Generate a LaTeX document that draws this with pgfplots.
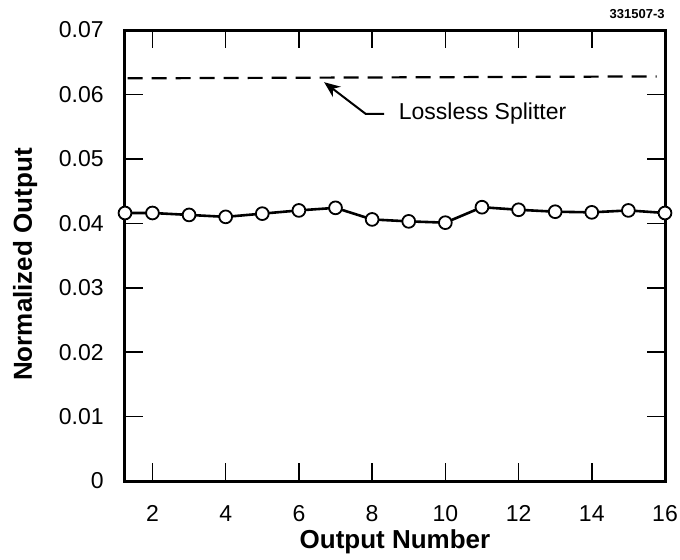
\documentclass[border=0pt]{standalone}
\usepackage{pgfplots}
\pgfplotsset{compat=1.18}
\usepackage{fontspec}
\setmainfont{Liberation Sans}
\usetikzlibrary{arrows.meta}

\begin{document}
\begin{tikzpicture}
\useasboundingbox (-62.5pt,-39pt) rectangle (277.5pt,240.5pt);
\begin{axis}[
    at={(0,0)}, anchor=south west,
    scale only axis, width=270pt, height=225.5pt,
    xmin=1.25, xmax=16, ymin=0, ymax=0.07,
    xtick={2,4,6,8,10,12,14,16},
    ytick={0,0.01,0.02,0.03,0.04,0.05,0.06,0.07},
    yticklabels={0,0.01,0.02,0.03,0.04,0.05,0.06,0.07},
    scaled y ticks=false,
    /pgf/number format/assume math mode=true,
    tick align=inside, major tick length=9pt,
    tick style={line width=0.8pt, black},
    axis line style={line width=1.5pt},
    tick label style={font=\fontsize{11.5}{13}\selectfont, inner sep=0pt},
    xticklabel style={anchor=north, yshift=-12pt},
    yticklabel style={anchor=east, xshift=-10.5pt},
    xlabel={Output Number},
    ylabel={Normalized Output},
    label style={font=\bfseries\fontsize{13}{15}\selectfont},
    xlabel style={at={(axis description cs:0.5,-0.135)}, anchor=center},
    ylabel style={at={(axis description cs:-0.185,0.48)}, anchor=center},
    clip=false,
]
% lossless splitter level (1/16)
\addplot[black, line width=1.1pt, dash pattern=on 7.5pt off 4.5pt] coordinates {(1.32,0.0625) (15.77,0.0628)};
% measured outputs
\addplot[black, line width=1.3pt, mark=*, mark size=3.2pt,
    mark options={fill=white, draw=black, line width=0.9pt}]
coordinates {
(1.25,0.0416) (2,0.0416) (3,0.0413) (4,0.0410) (5,0.0415) (6,0.0420)
(7,0.0424) (8,0.0406) (9,0.0403) (10,0.0401) (11,0.0425) (12,0.0421)
(13,0.0418) (14,0.0417) (15,0.0420) (16,0.0416)
};
\draw[black, line width=1pt, -{Stealth[length=8pt, width=6.5pt]}]
    (axis cs:8.33,0.0570) -- (axis cs:7.82,0.0570) -- (axis cs:6.69,0.0619);
\node[anchor=west, inner sep=0pt, font=\fontsize{11.5}{13}\selectfont]
    at (axis cs:8.72,0.0570) {Lossless Splitter};
\end{axis}
\node[anchor=base east, inner sep=0pt, font=\bfseries\fontsize{6.5}{7}\selectfont]
    at (270pt,231.5pt) {331507-3};
\end{tikzpicture}
\end{document}
